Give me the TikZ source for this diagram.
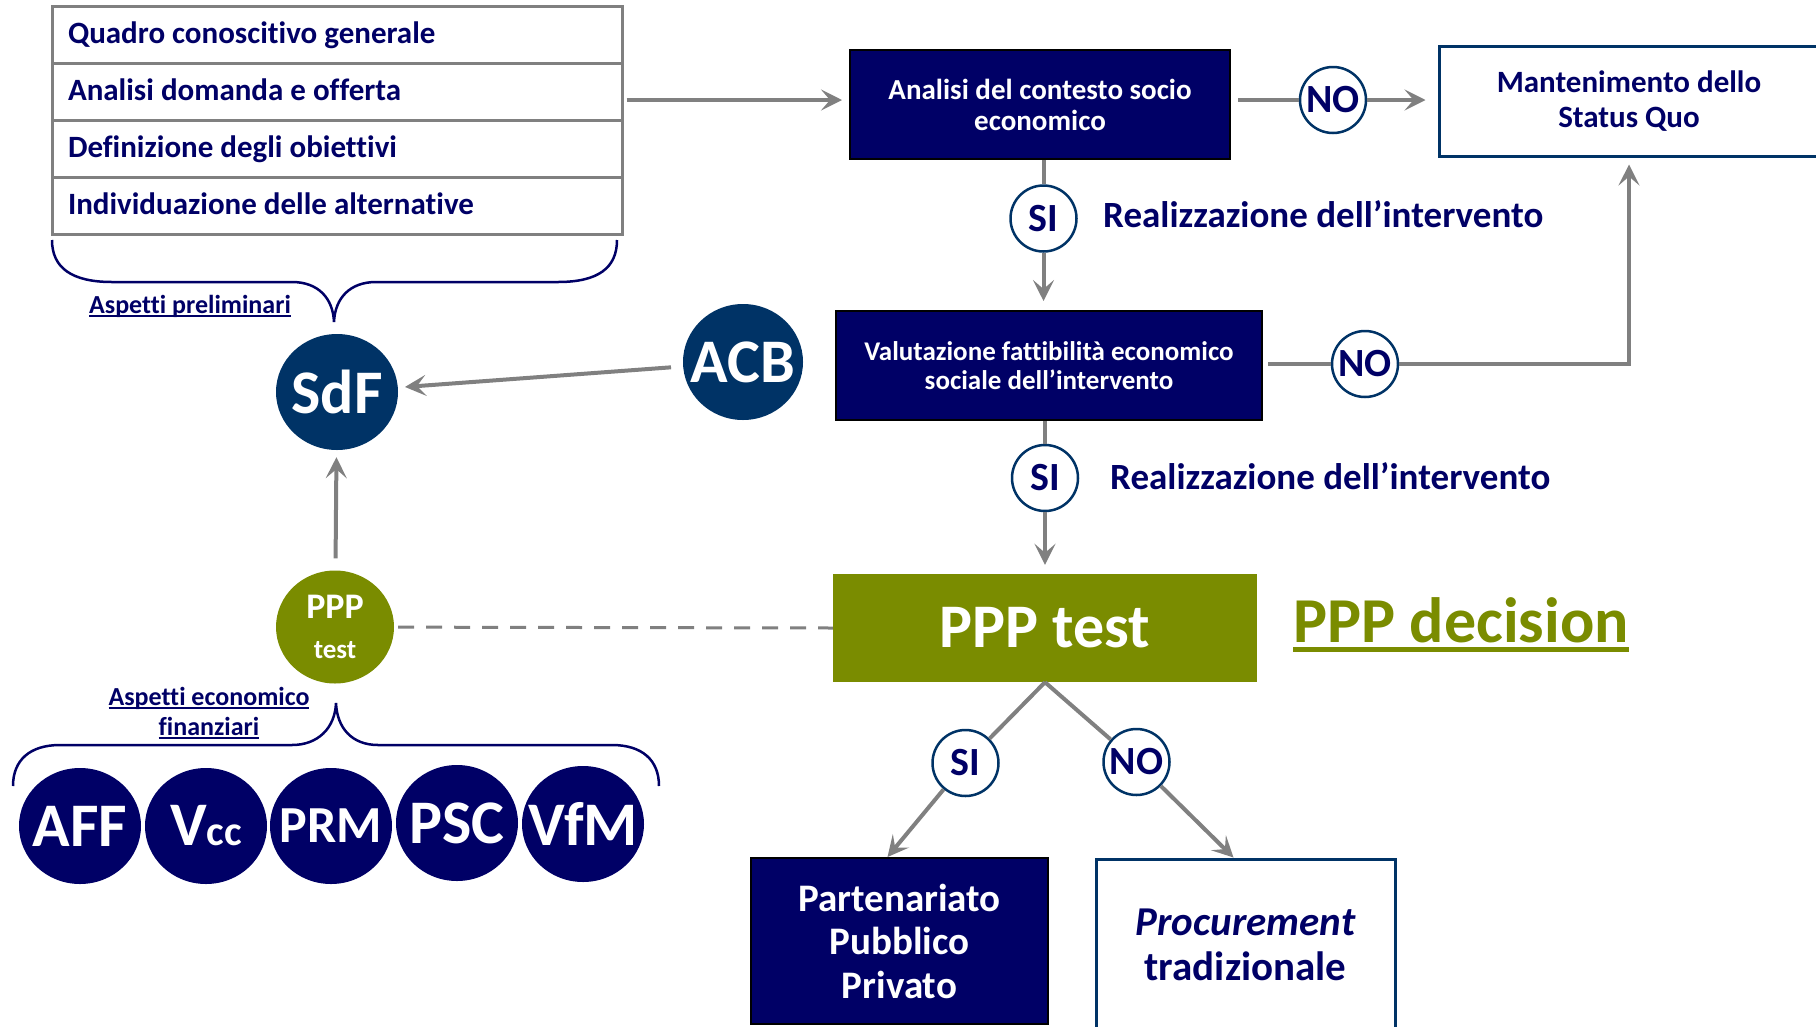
\documentclass[tikz,border=0pt]{standalone}
\usepackage{fontspec}
\setmainfont{Carlito}[Ligatures=NoCommon]
\usetikzlibrary{arrows.meta,shapes.geometric}

\definecolor{navy}{RGB}{0,0,102}
\definecolor{dkblue}{RGB}{0,51,102}
\definecolor{pptgreen}{RGB}{122,140,0}
\definecolor{linegray}{RGB}{128,128,128}

\newcommand{\fsz}[2]{\fontsize{#1}{#2}\selectfont}
\newcommand{\ulin}[1]{\leavevmode\setbox0\hbox{#1}\rlap{\rule[-0.16em]{\wd0}{0.08em}}\box0}
\newcommand{\ctr}[1]{\makebox[0pt]{#1}}

\tikzset{
	rowbox/.style={draw=linegray, line width=3pt, minimum height=57pt, text width=538pt, text height=24pt, text depth=6pt, inner xsep=16pt, inner ysep=0pt, align=flush left, text=navy, font=\bfseries\fsz{31}{31}},
	navybox/.style={fill=navy, draw=black, line width=2pt, text=white, align=center, inner sep=0pt},
	openbox/.style={fill=white, draw=dkblue, line width=3pt, text=navy, align=center, inner sep=0pt},
	yn/.style={circle, fill=white, draw=dkblue, line width=2.5pt, text=navy, minimum size=66pt, inner sep=0pt, font=\bfseries\fsz{40}{40}},
	bigdot/.style={ellipse, inner sep=0pt, minimum width=122pt, minimum height=116pt, text=white, font=\bfseries\fsz{62}{62}},
	lbl/.style={text=navy, inner sep=0pt, font=\bfseries\fsz{37}{37}},
	ultext/.style={text=navy, inner sep=0pt, align=center, font=\bfseries\fsz{26}{30}},
	flow/.style={draw=linegray, line width=4pt, -{Stealth[length=21pt, width=21pt, inset=9pt]}},
	link/.style={draw=linegray, line width=4pt},
	dashline/.style={draw=linegray, line width=3pt, dash pattern=on 16pt off 12pt},
	curly/.style={draw=navy, line width=2.5pt}
}

\begin{document}
\begin{tikzpicture}[x=1pt, y=-1pt]
	\useasboundingbox (0,0) rectangle (1816,1026);

	\node (r1)[rowbox] at (337,34.5) {Quadro conoscitivo generale};
	\node (r2)[rowbox] at (337,91.5) {Analisi domanda e offerta};
	\node (r3)[rowbox] at (337,148.5) {Definizione degli obiettivi};
	\node (r4)[rowbox] at (337,205.5) {Individuazione delle alternative};

	\draw[curly] (52,240) .. controls (52,268) and (72,282) .. (112,282) -- (292,282) .. controls (318,282) and (333,298) .. (334,322) .. controls (335,298) and (350,282) .. (376,282) -- (558,282) .. controls (598,282) and (617,268) .. (617,240);
	\node (prel)[ultext, anchor=base] at (190,313) {\ulin{Aspetti preliminari}};

	\node (sdf)[bigdot, fill=dkblue] at (337,392) {\ctr{SdF}};
	\node (acb)[bigdot, fill=dkblue, minimum width=120pt] at (743,362) {\ctr{ACB}};
	\node (ppc)[bigdot, fill=pptgreen, minimum width=118pt, minimum height=113pt, align=center, font=\bfseries\fsz{36}{38}] at (335,627) {\ctr{PPP}\\[2pt]\ctr{\fsz{27}{30}test}};

	\node (ecofin)[ultext] at (209,713) {\ulin{Aspetti economico}\\\ulin{finanziari}};
	\draw[curly] (13,786) .. controls (13,760) and (30,745) .. (60,745) -- (292,745) .. controls (318,745) and (335,728) .. (336,703) .. controls (337,728) and (352,745) .. (378,745) -- (612,745) .. controls (642,745) and (659,760) .. (659,786);

	\node (aff)[bigdot, fill=navy] at (80,826) {\ctr{AFF}};
	\node (vcc)[bigdot, fill=navy] at (206,826) {\ctr{V{\fsz{42}{42}cc}}};
	\node (prm)[bigdot, fill=navy, font=\bfseries\fsz{52}{52}] at (331,826) {\ctr{PRM}};
	\node (psc)[bigdot, fill=navy] at (457,823) {\ctr{PSC}};
	\node (vfm)[bigdot, fill=navy] at (583,824) {\ctr{VfM}};

	\node (ana)[navybox, minimum width=380pt, minimum height=109pt, font=\bfseries\fsz{29}{31}] at (1040,104.5) {Analisi del contesto socio\\economico};
	\node (no1)[yn] at (1333,100) {NO};
	\node (stq)[openbox, minimum width=380pt, minimum height=110pt, font=\bfseries\fsz{31}{35}] at (1629,101) {Mantenimento dello\\Status Quo};
	\node (si1)[yn] at (1043.5,218.5) {SI};
	\node (real1)[lbl, anchor=base west] at (1103,227) {Realizzazione dell’intervento};

	\node (val)[navybox, minimum width=426pt, minimum height=109pt, font=\bfseries\fsz{27}{29}] at (1049,365.5) {Valutazione fattibilità economico\\sociale dell’intervento};
	\node (no2)[yn] at (1365,364) {NO};
	\node (si2)[yn] at (1045,478) {SI};
	\node (real2)[lbl, anchor=base west] at (1110,489) {Realizzazione dell’intervento};

	\node (test)[fill=pptgreen, text=white, minimum width=424pt, minimum height=108pt, inner sep=0pt, font=\bfseries\fsz{62}{62}] at (1045,628) {PPP test};
	\node (dec)[anchor=base west, text=pptgreen, inner sep=0pt, font=\bfseries\fsz{64}{64}] at (1293,642) {\ulin{PPP decision}};
	\node (si3)[yn] at (965.5,763) {SI};
	\node (no3)[yn] at (1136.5,762) {NO};
	\node (ppp)[navybox, minimum width=297pt, minimum height=166pt, font=\bfseries\fsz{39}{43.5}] at (899.5,941) {Partenariato\\Pubblico\\Privato};
	\node (trad)[openbox, minimum width=299pt, minimum height=172pt, font=\bfseries\fsz{41}{45}] at (1245.5,945) {{\itshape Procurement}\\tradizionale};

	\draw[flow, shorten <=3pt, shorten >=7pt] (r2.east |- no1) -- (ana.west |- no1);
	\draw[link, shorten <=7pt] (ana.east |- no1) -- (no1);
	\draw[flow, shorten >=12pt] (no1) -- (stq.west |- no1);
	\draw[link] (si1 |- ana.south) -- (si1);
	\draw[flow, shorten >=9pt] (si1) -- (si1 |- val.north);
	\draw[link, shorten <=5pt] (val.east |- no2) -- (no2);
	\draw[flow, shorten >=7pt] (no2) -| (stq.south);
	\draw[link] (si2 |- val.south) -- (si2);
	\draw[flow, shorten >=9pt] (si2) -- (si2 |- test.north);
	\draw[link] (test.south) -- (si3);
	\draw[link] (test.south) -- (no3);
	\draw[flow] (si3) -- ([xshift=-12pt]ppp.north);
	\draw[flow] (no3) -- ([xshift=-12pt]trad.north);
	\draw[dashline, shorten <=4pt] (ppc) -- (test.west);
	\draw[flow, shorten <=12pt, shorten >=7pt] (ppc) -- (sdf);
	\draw[flow, shorten <=12pt, shorten >=7pt] (acb) -- (sdf);
\end{tikzpicture}
\end{document}
